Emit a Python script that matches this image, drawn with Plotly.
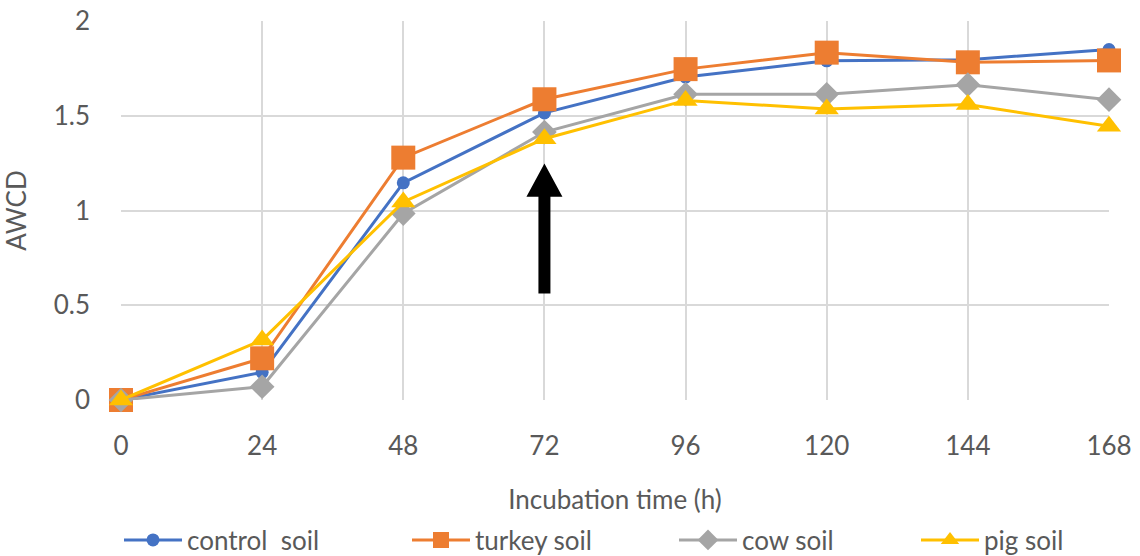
import plotly.graph_objects as go

# Incubation time (h) and AWCD readings per soil treatment
hours = [0, 24, 48, 72, 96, 120, 144, 168]
control_soil = [0.0, 0.146, 1.146, 1.515, 1.704, 1.79, 1.796, 1.849]
turkey_soil = [0.0, 0.22, 1.279, 1.587, 1.746, 1.833, 1.782, 1.792]
cow_soil = [0.0, 0.07, 0.984, 1.414, 1.613, 1.613, 1.664, 1.585]
pig_soil = [0.0, 0.316, 1.045, 1.379, 1.581, 1.536, 1.559, 1.444]

y_ticks = [0, 0.5, 1, 1.5, 2]
y_tick_labels = ["0", "0.5", "1", "1.5", "2"]

FONT = "Lato"
TEXT = "#595959"
GRID = "#D9D9D9"
FS = 26

series = [
    ("control  soil", control_soil, "#4472C4", "circle", 13),
    ("turkey soil", turkey_soil, "#ED7D31", "square", 24),
    ("cow soil", cow_soil, "#A5A5A5", "diamond", 19),
    ("pig soil", pig_soil, "#FFC000", "triangle-up", 21),
]
# left edge of each legend entry, in pixels of the page
legend_left_px = [119, 407, 674, 916]

fig = go.Figure()
legend_layout = {}
for i, (name, vals, color, symbol, size) in enumerate(series):
    lg = "legend" if i == 0 else f"legend{i + 1}"
    fig.add_trace(go.Scatter(
        x=hours, y=vals, name=name, mode="lines+markers",
        line=dict(color=color, width=3),
        marker=dict(symbol=symbol, size=size, color=color, line=dict(width=0)),
        cliponaxis=False, legend=lg,
    ))
    legend_layout[lg] = dict(
        x=legend_left_px[i] / 1140, y=1 - 540 / 556,
        xref="container", yref="container",
        xanchor="left", yanchor="middle", orientation="h",
        font=dict(family=FONT, size=FS, color=TEXT),
        itemwidth=58, bgcolor="rgba(0,0,0,0)", borderwidth=0,
        tracegroupgap=0,
    )

# Upward arrow marking the 72 h time point
ARROW_X = 72
ARROW_TAIL = 0.562
ARROW_NECK = 1.072
ARROW_TIP = 1.248
SHAFT_HALF = 6
HEAD_HALF = 18
arrow_path = (
    f"M {-SHAFT_HALF},{ARROW_TAIL} L {SHAFT_HALF},{ARROW_TAIL} "
    f"L {SHAFT_HALF},{ARROW_NECK} L {HEAD_HALF},{ARROW_NECK} "
    f"L 0,{ARROW_TIP} L {-HEAD_HALF},{ARROW_NECK} "
    f"L {-SHAFT_HALF},{ARROW_NECK} Z"
)
fig.add_shape(
    type="path", path=arrow_path, xref="x", yref="y",
    xsizemode="pixel", xanchor=ARROW_X,
    fillcolor="black", line=dict(width=0), layer="above",
)

fig.update_layout(
    width=1140, height=556,
    margin=dict(l=121, r=31, t=21, b=156, autoexpand=False),
    paper_bgcolor="white", plot_bgcolor="white",
    font=dict(family=FONT, color=TEXT, size=FS),
    showlegend=True,
    **legend_layout,
)
fig.update_xaxes(
    range=[0, 168], tickvals=hours, ticktext=[str(h) for h in hours],
    showgrid=True, gridcolor=GRID, gridwidth=1.5,
    showline=False, zeroline=False,
    ticks="", ticklabelstandoff=28,
    tickfont=dict(family=FONT, size=FS, color=TEXT),
    title=dict(text="Incubation time (h)", standoff=30,
               font=dict(family=FONT, size=FS, color=TEXT)),
)
fig.update_yaxes(
    range=[0, 2], tickvals=y_ticks, ticktext=y_tick_labels,
    showgrid=True, gridcolor=GRID, gridwidth=1.5,
    showline=False, zeroline=False,
    ticks="", ticklabelstandoff=30,
    tickfont=dict(family=FONT, size=FS, color=TEXT),
    title=dict(text="AWCD", standoff=20,
               font=dict(family=FONT, size=FS, color=TEXT)),
)

fig.write_html("out.html")
